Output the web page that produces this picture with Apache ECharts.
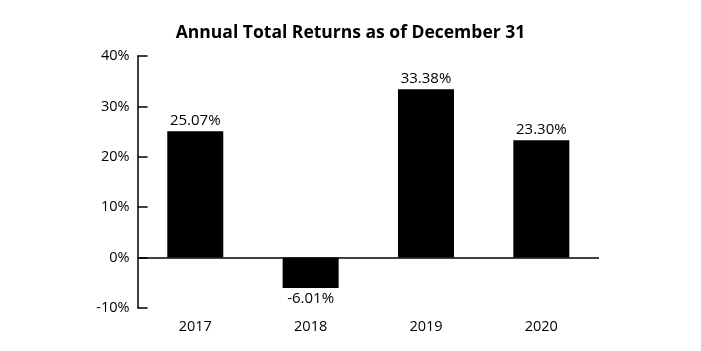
<!DOCTYPE html>
<html>
<head>
<meta charset="utf-8">
<script src="https://cdn.jsdelivr.net/npm/echarts@6/dist/echarts.min.js"></script>
<style>
    html, body { margin: 0; padding: 0; background: #fff; }
    #chart { width: 701px; height: 351px; }
</style>
</head>
<body>
<div id="chart"></div>
<script>
// chart data
const years = ['2017', '2018', '2019', '2020'];
const returns = [25.07, -6.01, 33.38, 23.30];
const yTicks = [-10, 0, 10, 20, 30, 40];

const font = '"Open Sans", sans-serif';
const myChart = echarts.init(document.getElementById('chart'));

let option = {
    animation: false,
    title: {
        text: 'Annual Total Returns as of December 31',
        left: 'center',
        top: 19,
        textStyle: { fontFamily: font, fontSize: 17.5, fontWeight: 'bold', color: '#000' }
    },
    grid: { left: 137.6, right: 102, top: 56, bottom: 43, containLabel: false },
    xAxis: {
        type: 'category',
        data: years,
        axisLine: { show: false, onZero: false },
        axisTick: { show: false },
        axisLabel: { margin: 11, fontFamily: font, fontSize: 14.5, color: '#000' }
    },
    yAxis: {
        type: 'value',
        min: yTicks[0],
        max: yTicks[yTicks.length - 1],
        interval: 10,
        splitLine: { show: false },
        axisLine: { show: true, lineStyle: { color: '#000', width: 1.5 } },
        axisTick: { show: true, inside: true, length: 10, lineStyle: { color: '#000', width: 1.5 } },
        axisLabel: { margin: 8, formatter: '{value}%', fontFamily: font, fontSize: 14.5, color: '#000' }
    },
    series: [{
        type: 'bar',
        barWidth: 56,
        itemStyle: { color: '#000' },
        data: returns.map((v) => ({
            value: v,
            label: { position: v < 0 ? 'bottom' : 'top' }
        })),
        label: {
            show: true,
            distance: 3,
            formatter: (p) => p.value.toFixed(2) + '%',
            fontFamily: font,
            fontSize: 15,
            color: '#000'
        },
        markLine: {
            silent: true,
            symbol: 'none',
            label: { show: false },
            lineStyle: { color: '#000', width: 1.5, type: 'solid' },
            data: [{ yAxis: 0 }]
        }
    }]
};
myChart.setOption(option, true);
</script>
</body>
</html>
